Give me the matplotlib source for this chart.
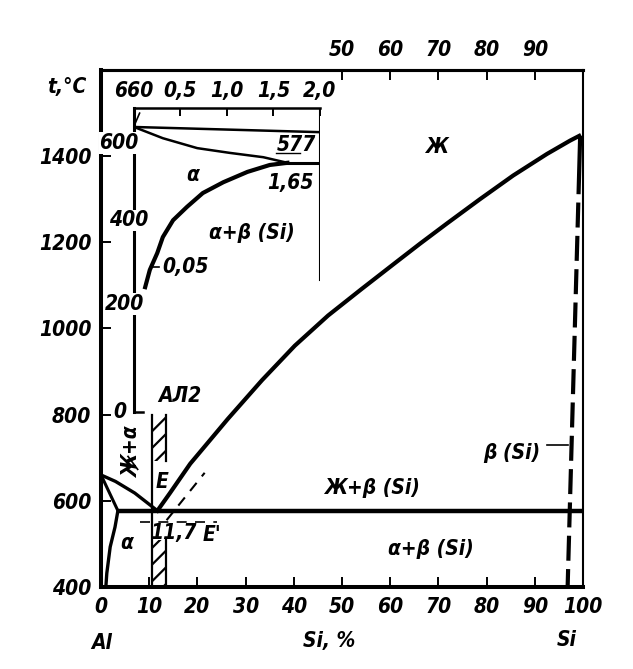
import numpy as np
import matplotlib
matplotlib.use('Agg')
import matplotlib.pyplot as plt
from matplotlib.patches import Rectangle

plt.rcParams['font.family'] = ['DejaVu Sans']
plt.rcParams['font.style'] = 'italic'
plt.rcParams['font.stretch'] = 'condensed'
plt.rcParams['font.weight'] = 'bold'
plt.rcParams['font.size'] = 15
plt.rcParams['hatch.linewidth'] = 1.6

# main diagram: Si, wt.% vs t, C
liq_al_x = [0, 3, 7, 11.7]
liq_al_t = [660, 645, 618, 577]
sol_al_x = [0, 3.5]
sol_al_t = [660, 577]
solv_al_x = [1.0, 1.2, 1.9, 2.9, 3.5]
solv_al_t = [400, 432, 493, 539, 577]
eut_x = [3.5, 100]
eut_t = [577, 577]
liq_si_x = [11.7, 14.3, 18.5, 26.3, 33.4, 40.2, 47.1, 54.1, 61.0, 66.2,
            71.8, 78.6, 85.5, 92.5, 97.3, 99.2]
liq_si_t = [577, 618, 686, 790, 880, 960, 1030, 1092, 1152, 1197,
            1244, 1300, 1355, 1405, 1436, 1447]
beta_x = [99.4, 96.8]
beta_t = [1447, 400]
mod_liq_x = [13.6, 21.5]      # E' (modified) dashed
mod_liq_t = [555, 665]
mod_eut_x = [8, 24]
mod_eut_t = [551, 551]
al2_x = [10.5, 13.5]          # AL2 alloy band
al2_t = [400, 800]

xticks = np.arange(0, 101, 10)
yticks = [400, 600, 800, 1000, 1200, 1400]
top_ticks = [50, 60, 70, 80, 90]

# inset: Al corner, 0..2 % Si
in_liq_x = [0, 2.0]
in_liq_t = [660, 648]
in_sol_x = [0, 0.31, 0.68, 1.03, 1.39, 1.65]
in_sol_t = [660, 634, 611, 600, 590, 577]
in_eut_x = [1.65, 2.0]
in_eut_t = [577, 577]
in_solv_x = [0.12, 0.17, 0.25, 0.31, 0.42, 0.57, 0.74, 0.96, 1.22, 1.46, 1.65]
in_solv_t = [289, 329, 368, 405, 444, 475, 507, 532, 556, 572, 577]
in_xticks = [0, 0.5, 1.0, 1.5, 2.0]
in_xlabels = ['660', '0,5', '1,0', '1,5', '2,0']
in_yticks = [0, 200, 400, 600]

fig = plt.figure(figsize=(6.33, 6.69), dpi=100)
ax = fig.add_axes([0.1596, 0.1226, 0.7615, 0.7728])
ax.set_xlim(0, 100)
ax.set_ylim(400, 1600)
ax.spines['left'].set_linewidth(2.9)
ax.spines['bottom'].set_linewidth(2.9)
ax.spines['top'].set_linewidth(2.2)
ax.spines['right'].set_linewidth(1.5)
ax.set_xticks(xticks)
ax.set_yticks(yticks)
ax.tick_params(direction='in', length=7, width=1.4, pad=7)
sec = ax.secondary_xaxis('top')
sec.set_xticks(top_ticks)
sec.tick_params(direction='in', length=7, width=1.4, pad=7)
sec.spines['top'].set_linewidth(2.2)

ax.plot(liq_al_x, liq_al_t, 'k-', lw=2.4)
ax.plot(sol_al_x, sol_al_t, 'k-', lw=2.2)
ax.plot(solv_al_x, solv_al_t, 'k-', lw=2.4)
ax.plot(eut_x, eut_t, 'k-', lw=3.2, solid_capstyle='butt')
ax.plot(liq_si_x, liq_si_t, 'k-', lw=3.0)
ax.plot(beta_x, beta_t, 'k-', lw=3.0, dashes=[14, 2] + [6, 2] * 14)
ax.plot(mod_liq_x, mod_liq_t, 'k-', lw=1.5, dashes=(5, 4))
ax.plot(mod_eut_x, mod_eut_t, 'k-', lw=1.2, dashes=(6, 5))

# AL2 band
for lo, hi in [(400, 510), (693, 800)]:
    ax.add_patch(Rectangle((al2_x[0], lo), al2_x[1] - al2_x[0], hi - lo,
                           fill=False, hatch='//', lw=0, edgecolor='k'))
    ax.plot([al2_x[1], al2_x[1]], [lo, hi], 'k-', lw=1.6)
ax.plot([al2_x[0], al2_x[0]], al2_t, 'k-', lw=1.6)

ax.text(69.6, 1421, 'Ж', ha='center', va='center')
ax.text(56.3, 630, 'Ж+β (Si)', ha='center', va='center')
ax.text(68.5, 488, 'α+β (Si)', ha='center', va='center')
ax.text(85.3, 711, 'β (Si)', ha='center', va='center')
ax.plot([92.5, 96.8], [729, 729], 'k-', lw=1.2)
ax.text(5.4, 502, 'α', ha='center', va='center')
ax.text(6.4, 713, 'Ж+α', ha='center', va='center', rotation=90)
ax.plot([5.6, 7.6], [703, 673], 'k-', lw=1.2)
ax.text(12.6, 644, 'E', ha='center', va='center')
ax.text(16.3, 843, 'АЛ2', ha='center', va='center')
ax.text(15.1, 525, '11,7', ha='center', va='center')
ax.text(23.0, 520, "E'", ha='center', va='center')
ax.text(-7.2, 1560, 't,°C', ha='center', va='center', clip_on=False)
ax.text(0.2, 270, 'Al', ha='center', va='center', clip_on=False)
ax.text(47.4, 275, 'Si, %', ha='center', va='center', clip_on=False)
ax.text(96.7, 277, 'Si', ha='center', va='center', clip_on=False)

# inset
ax_in = fig.add_axes([0.2117, 0.3842, 0.2938, 0.4544])
ax_in.patch.set_visible(False)
ax_in.set_xlim(0, 2.0)
ax_in.set_ylim(0, 704)
for s in ['right', 'bottom']:
    ax_in.spines[s].set_visible(False)
ax_in.spines['top'].set_linewidth(1.8)
ax_in.spines['left'].set_linewidth(2.2)
ax_in.xaxis.tick_top()
ax_in.set_xticks(in_xticks)
ax_in.set_xticklabels(in_xlabels)
ax_in.tick_params(axis='x', direction='in', length=6, width=1.4, pad=5)
ax_in.set_yticks([])

ax_in.plot(in_liq_x, in_liq_t, 'k-', lw=1.8)
ax_in.plot(in_sol_x, in_sol_t, 'k-', lw=1.8)
ax_in.plot(in_eut_x, in_eut_t, 'k-', lw=2.2)
ax_in.plot(in_solv_x, in_solv_t, 'k-', lw=3.0)
ax_in.plot([2.0, 2.0], [306, 704], 'k-', lw=1.5)
ax_in.plot([0, 0.1], [0, 0], 'k-', lw=1.8, clip_on=False)
ax_in.plot([0.06, 0.0], [692, 662], 'k-', lw=1.2, clip_on=False)

for v, dx, dy in zip(in_yticks, [-0.15, -0.1, -0.06, -0.16], [0, 50, 44, 23]):
    ax_in.text(dx, v + dy, str(v), ha='center', va='center', clip_on=False,
               bbox=dict(facecolor='white', edgecolor='none', pad=0.5))
ax_in.text(0.63, 549, 'α', ha='center', va='center')
ax_in.text(1.27, 414, 'α+β (Si)', ha='center', va='center')
ax_in.text(0.55, 336, '0,05', ha='center', va='center')
ax_in.plot([0.2, 0.27], [336, 336], 'k-', lw=1.2)
ax_in.text(1.68, 530, '1,65', ha='center', va='center')
ax_in.text(1.75, 618, '577', ha='center', va='center')
ax_in.plot([1.53, 1.78], [600, 600], 'k-', lw=1.0)

fig.savefig('out.png', dpi=100, facecolor='white')
